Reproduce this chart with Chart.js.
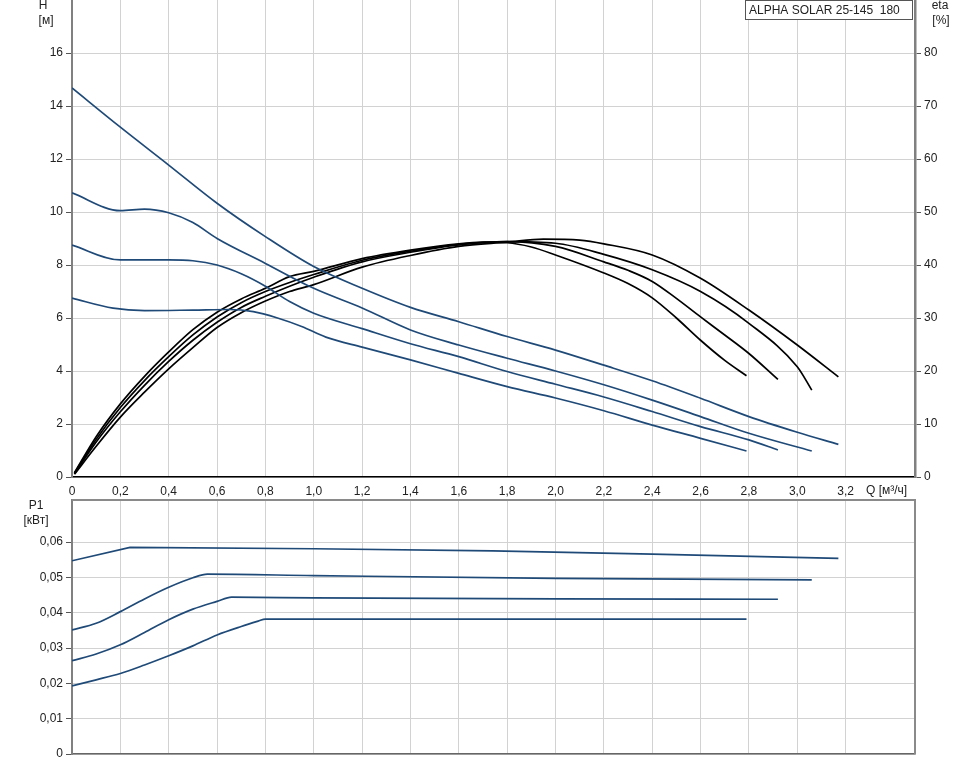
<!DOCTYPE html>
<html>
<head>
<meta charset="utf-8">
<title>ALPHA SOLAR 25-145 180</title>
<script src="https://cdn.jsdelivr.net/npm/chart.js@4.4.1/dist/chart.umd.min.js"></script>
<style>
  body { margin: 0; background: #fff; }
  #wrap { position: relative; width: 968px; height: 764px; overflow: hidden; }
  canvas { position: absolute; left: 0; }
  #topChart { top: 0; }
  #powerChart { top: 496px; }
</style>
</head>
<body>
<div id="wrap">
  <canvas id="topChart" width="968" height="500"></canvas>
  <canvas id="powerChart" width="968" height="268"></canvas>
</div>
<script>
// Head curves H [m] vs Q [m3/h]
const h1Q = [0, 0.2, 0.4, 0.6, 0.8, 1.0, 1.2, 1.4, 1.6, 1.8, 2.0, 2.2, 2.4, 2.6, 2.8, 3.0, 3.17];
const h1 = [14.68, 13.2, 11.77, 10.33, 9.07, 7.94, 7.12, 6.4, 5.86, 5.3, 4.79, 4.22, 3.63, 2.97, 2.28, 1.69, 1.23];
const h2Q = [0, 0.2, 0.3, 0.4, 0.5, 0.6, 0.8, 1.0, 1.2, 1.4, 1.6, 1.8, 2.0, 2.2, 2.4, 2.6, 2.8, 3.06];
const h2 = [10.72, 10.05, 10.11, 9.97, 9.6, 9.0, 8.06, 7.12, 6.38, 5.55, 4.98, 4.48, 4.0, 3.48, 2.9, 2.28, 1.65, 0.98];
const h3Q = [0, 0.2, 0.4, 0.5, 0.6, 0.7, 0.8, 0.9, 1.0, 1.2, 1.4, 1.6, 1.8, 2.0, 2.2, 2.4, 2.6, 2.8, 2.92];
const h3 = [8.75, 8.19, 8.19, 8.16, 8.0, 7.67, 7.2, 6.62, 6.18, 5.6, 5.03, 4.54, 3.98, 3.5, 3.02, 2.47, 1.9, 1.4, 1.02];
const h4Q = [0, 0.17, 0.3, 0.5, 0.65, 0.75, 0.85, 0.95, 1.05, 1.2, 1.4, 1.6, 1.8, 2.0, 2.2, 2.4, 2.6, 2.79];
const h4 = [6.75, 6.37, 6.28, 6.3, 6.32, 6.24, 6.0, 5.68, 5.28, 4.9, 4.42, 3.91, 3.41, 2.98, 2.5, 1.96, 1.46, 0.98];

// Efficiency curves eta [%]
const e1Q = [0.01, 0.1, 0.2, 0.3, 0.4, 0.5, 0.6, 0.7, 0.8, 0.9, 1.0, 1.2, 1.4, 1.6, 1.8, 1.95, 2.1, 2.2, 2.4, 2.6, 2.8, 3.0, 3.17];
const e1 = [0.5, 5.8, 11.3, 16.0, 20.4, 24.4, 28.2, 31.0, 33.2, 35.0, 36.3, 39.6, 41.8, 43.5, 44.3, 44.9, 44.7, 44.0, 41.9, 37.5, 31.5, 24.9, 18.9];
const e2Q = [0.01, 0.1, 0.2, 0.3, 0.4, 0.5, 0.6, 0.7, 0.8, 0.9, 1.0, 1.2, 1.4, 1.6, 1.8, 2.0, 2.2, 2.4, 2.6, 2.8, 3.0, 3.06];
const e2 = [0.6, 6.6, 12.3, 17.3, 21.8, 25.8, 29.2, 32.0, 34.1, 36.0, 37.7, 40.6, 42.4, 43.8, 44.4, 44.1, 42.0, 39.1, 35.0, 29.0, 20.8, 16.4];
const e3Q = [0.01, 0.1, 0.2, 0.3, 0.4, 0.5, 0.6, 0.7, 0.8, 0.9, 1.0, 1.2, 1.4, 1.6, 1.8, 2.0, 2.2, 2.3, 2.4, 2.5, 2.6, 2.7, 2.8, 2.92];
const e3 = [0.7, 7.1, 13.1, 18.2, 22.7, 26.8, 30.2, 32.9, 35.0, 36.7, 38.2, 40.9, 42.6, 43.9, 44.4, 43.5, 40.6, 39.0, 36.9, 33.7, 30.2, 26.8, 23.3, 18.4];
const e4Q = [0.01, 0.1, 0.2, 0.3, 0.4, 0.5, 0.6, 0.7, 0.8, 0.9, 1.0, 1.2, 1.4, 1.6, 1.7, 1.8, 1.9, 2.0, 2.2, 2.3, 2.4, 2.5, 2.6, 2.7, 2.79];
const e4 = [0.8, 7.6, 13.8, 19.0, 23.6, 27.8, 31.1, 33.6, 35.6, 37.8, 38.8, 41.2, 42.8, 44.0, 44.3, 44.2, 43.4, 41.9, 38.5, 36.5, 33.8, 30.0, 25.8, 22.0, 19.1];

// Power curves P1 [kW]
const p1Q = [0, 0.24, 1.0, 1.74, 2.4, 3.17];
const p1 = [0.0547, 0.0585, 0.0581, 0.0575, 0.0566, 0.0554];
const p2Q = [0, 0.1, 0.2, 0.3, 0.4, 0.5, 0.56, 1.0, 2.0, 3.06];
const p2 = [0.0351, 0.0370, 0.0403, 0.0439, 0.0472, 0.0499, 0.0509, 0.0505, 0.0497, 0.0493];
const p3Q = [0, 0.1, 0.2, 0.3, 0.4, 0.5, 0.6, 0.66, 1.0, 2.0, 2.92];
const p3 = [0.0264, 0.0283, 0.0309, 0.0344, 0.0380, 0.0410, 0.0432, 0.0444, 0.0442, 0.0439, 0.0438];
const p4Q = [0, 0.1, 0.2, 0.3, 0.4, 0.5, 0.6, 0.7, 0.77, 0.8, 2.79];
const p4 = [0.0193, 0.0210, 0.0228, 0.0252, 0.0278, 0.0306, 0.0337, 0.0361, 0.0376, 0.0382, 0.0382];

// Axis ranges / ticks
const qMax = 3.487;
const qStep = 0.2;
const hMax = 18, hStep = 2;
const etaMax = 90, etaStep = 10;
const pMax = 0.0719, pStep = 0.01;

const navy = '#1f4a78';
const gridColor = '#d2d2d2';

Chart.defaults.font.family = "'Liberation Sans', Arial, sans-serif";
Chart.defaults.font.size = 12;
Chart.defaults.color = '#222';

function pts(qs, vs) {
  return qs.map((q, i) => ({ x: q, y: vs[i] }));
}

function onStep(v, step) {
  return Math.abs(v / step - Math.round(v / step)) < 1e-6;
}

function keepSteps(step) {
  return scale => { scale.ticks = scale.ticks.filter(t => onStep(t.value, step)); };
}

function comma(v, digits) {
  return v === 0 ? '0' : v.toFixed(digits).replace('.', ',');
}

// fixed axis sizes so the plot areas line up with the picture
function fixWidth(w) {
  return s => { s.width = w; s.paddingTop = 0; s.paddingBottom = 0; };
}

const hideTop = max => ctx => (ctx.tick && Math.abs(ctx.tick.value - max) < 1e-9) ? 'rgba(0,0,0,0)' : gridColor;

// text labels and title box
const topLabels = {
  id: 'topLabels',
  afterDraw(chart) {
    const c = chart.ctx;
    c.save();
    c.fillStyle = '#222';
    c.font = "12px 'Liberation Sans', Arial, sans-serif";
    c.textAlign = 'center';
    c.textBaseline = 'middle';
    c.fillText('H', 43, 6);
    c.fillText('[м]', 46, 21);
    c.fillText('eta', 940, 6);
    c.fillText('[%]', 941, 21);
    c.textAlign = 'left';
    c.fillText('Q [м³/ч]', 866, 491);
    // title box
    c.fillStyle = '#fff';
    c.fillRect(745.5, 0.5, 167, 19);
    c.strokeStyle = '#555';
    c.lineWidth = 1;
    c.strokeRect(745.5, 0.5, 167, 19);
    c.fillStyle = '#222';
    c.fillText('ALPHA SOLAR 25-145  180', 749, 11);
    c.restore();
  }
};

const powerLabels = {
  id: 'powerLabels',
  afterDraw(chart) {
    const c = chart.ctx;
    const a = chart.chartArea;
    c.save();
    c.strokeStyle = '#8a8a8a';
    c.lineWidth = 2;
    c.beginPath();
    c.moveTo(a.left, a.top);
    c.lineTo(a.right, a.top);
    c.lineTo(a.right, a.bottom);
    c.stroke();
    c.fillStyle = '#222';
    c.font = "12px 'Liberation Sans', Arial, sans-serif";
    c.textAlign = 'center';
    c.textBaseline = 'middle';
    c.fillText('P1', 36, 10);
    c.fillText('[кВт]', 36, 25);
    c.restore();
  }
};

function curve(data, color, axis) {
  return {
    data: data,
    yAxisID: axis,
    borderColor: color,
    borderWidth: 1.7,
    pointRadius: 0,
    fill: false,
    cubicInterpolationMode: 'monotone'
  };
}

// Head and efficiency chart
new Chart(document.getElementById('topChart'), {
  type: 'line',
  data: {
    datasets: [
      curve(pts(h1Q, h1), navy, 'y'),
      curve(pts(h2Q, h2), navy, 'y'),
      curve(pts(h3Q, h3), navy, 'y'),
      curve(pts(h4Q, h4), navy, 'y'),
      curve(pts(e1Q, e1), '#000', 'eta'),
      curve(pts(e2Q, e2), '#000', 'eta'),
      curve(pts(e3Q, e3), '#000', 'eta'),
      curve(pts(e4Q, e4), '#000', 'eta')
    ]
  },
  options: {
    responsive: false,
    animation: false,
    layout: { padding: 0 },
    plugins: { legend: { display: false }, tooltip: { enabled: false } },
    scales: {
      x: {
        type: 'linear',
        min: 0,
        max: qMax,
        afterBuildTicks: keepSteps(qStep),
        afterFit: s => { s.height = 23; },
        ticks: {
          stepSize: qStep,
          padding: 7,
          maxRotation: 0,
          autoSkip: false,
          callback: v => (Math.abs(v - 3.4) < 1e-6 ? '' : comma(v, 1))
        },
        grid: { color: gridColor, drawTicks: false },
        border: { color: '#000', width: 1.5 }
      },
      y: {
        position: 'left',
        min: 0,
        max: hMax,
        afterFit: fixWidth(72),
        ticks: {
          stepSize: hStep,
          padding: 3,
          callback: v => (v === hMax ? '' : v)
        },
        grid: { color: hideTop(hMax), tickColor: ctx => (ctx.tick && ctx.tick.value === hMax ? 'rgba(0,0,0,0)' : '#555'), tickLength: 6 },
        border: { color: '#808080', width: 2 }
      },
      eta: {
        position: 'right',
        min: 0,
        max: etaMax,
        afterFit: fixWidth(53),
        ticks: {
          stepSize: etaStep,
          padding: 3,
          callback: v => (v === etaMax ? '' : v)
        },
        grid: { drawOnChartArea: false, tickColor: ctx => (ctx.tick && ctx.tick.value === etaMax ? 'rgba(0,0,0,0)' : '#555'), tickLength: 6 },
        border: { color: '#808080', width: 2.5 }
      }
    }
  },
  plugins: [topLabels]
});

function powerLine(data, smooth) {
  return {
    data: data,
    borderColor: navy,
    borderWidth: 1.7,
    pointRadius: 0,
    fill: false,
    tension: 0,
    cubicInterpolationMode: smooth ? 'monotone' : 'default'
  };
}

// Power chart
new Chart(document.getElementById('powerChart'), {
  type: 'line',
  data: {
    datasets: [
      powerLine(pts(p1Q, p1), false),
      powerLine(pts(p2Q, p2), true),
      powerLine(pts(p3Q, p3), true),
      powerLine(pts(p4Q, p4), true)
    ]
  },
  options: {
    responsive: false,
    animation: false,
    layout: { padding: { top: 4, left: 0, right: 53, bottom: 0 } },
    plugins: { legend: { display: false }, tooltip: { enabled: false } },
    scales: {
      x: {
        type: 'linear',
        min: 0,
        max: qMax,
        afterBuildTicks: keepSteps(qStep),
        afterFit: s => { s.height = 10; },
        ticks: { display: false, stepSize: qStep },
        grid: { color: gridColor, drawTicks: false },
        border: { color: '#666', width: 1.5 }
      },
      y: {
        position: 'left',
        min: 0,
        max: pMax,
        afterBuildTicks: keepSteps(pStep),
        afterFit: fixWidth(72),
        ticks: {
          stepSize: pStep,
          padding: 3,
          callback: v => (Math.abs(v - 0.07) < 1e-9 ? '' : comma(v, 2))
        },
        grid: { color: gridColor, tickColor: '#555', tickLength: 6 },
        border: { color: '#808080', width: 2 }
      }
    }
  },
  plugins: [powerLabels]
});
</script>
</body>
</html>
